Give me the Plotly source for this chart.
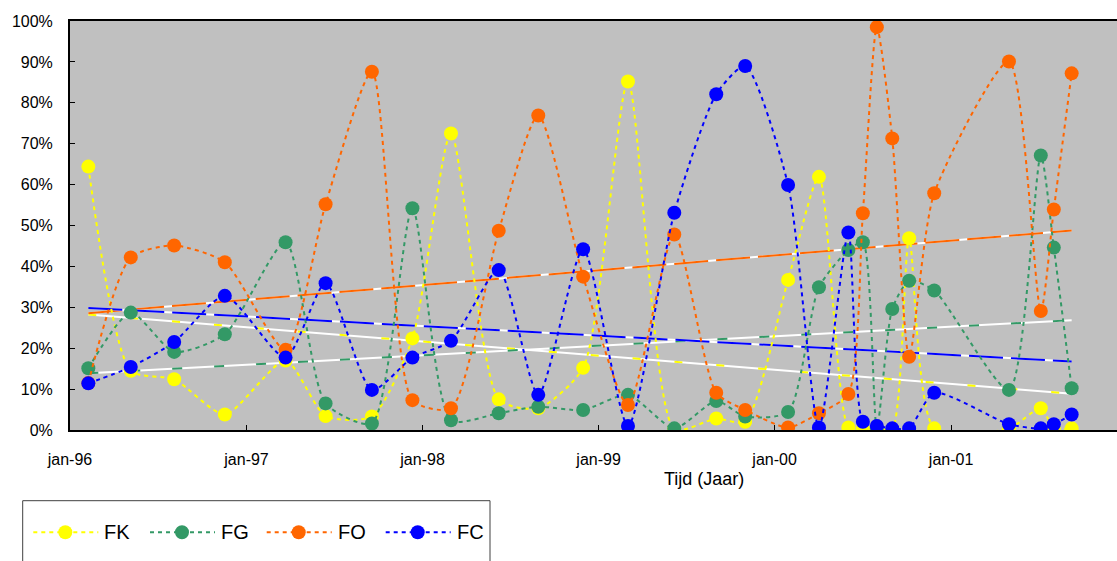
import numpy as np
import pandas as pd
import plotly.graph_objects as go

# ---------------- data ----------------
dates = ["1996-02-08", "1996-05-06", "1996-08-04", "1996-11-17", "1997-03-23",
         "1997-06-14", "1997-09-18", "1997-12-11", "1998-03-01", "1998-06-08",
         "1998-08-29", "1998-11-30", "1999-03-03", "1999-06-07", "1999-09-02",
         "1999-11-01", "2000-01-29", "2000-04-02", "2000-06-02", "2000-07-02",
         "2000-07-31", "2000-09-01", "2000-10-06", "2000-11-27", "2001-05-01",
         "2001-07-06", "2001-08-02", "2001-09-08"]

fk = [64.4, 14.5, 12.4, 3.8, 17.0, 3.4, 3.3, 22.4, 72.5, 7.5,
      5.3, 15.2, 85.2, 0.2, 2.8, 2.0, 36.7, 61.9, 0.6, 0.2,
      0.2, 0.2, 46.9, 0.4, 0.4, 5.3, 0.5, 0.4]
fg = [15.1, 28.7, 19.1, 23.4, 45.9, 6.5, 1.6, 54.2, 2.4, 4.1,
      5.7, 4.9, 8.6, 0.4, 7.1, 3.3, 4.4, 34.9, 44.0, 45.9,
      0.5, 29.6, 36.5, 34.1, 9.8, 67.1, 44.6, 10.2]
fo = [11.5, 42.2, 45.1, 41.0, 19.6, 55.2, 87.6, 7.3, 5.3, 48.7,
      76.9, 37.5, 6.1, 47.8, 9.1, 4.9, 0.6, 4.1, 8.8, 53.0,
      98.5, 71.3, 17.9, 57.9, 90.1, 29.1, 53.9, 87.2]
fc = [11.4, 15.4, 21.5, 32.8, 17.7, 35.9, 9.8, 17.7, 21.8, 39.1,
      8.6, 44.2, 1.0, 53.1, 82.1, 89.0, 59.9, 0.6, 48.3, 2.0,
      1.0, 0.4, 0.4, 9.1, 1.4, 0.4, 1.4, 3.8]

series_names = ["FK", "FG", "FO", "FC"]
series_values = [fk, fg, fo, fc]
colors = ["#FFFF00", "#339966", "#FF6600", "#0000FF"]

tick_dates = ["1996-01-01", "1997-01-01", "1998-01-01",
              "1999-01-01", "2000-01-01", "2001-01-01"]
tick_labels = ["jan-96", "jan-97", "jan-98", "jan-99", "jan-00", "jan-01"]
y_ticks = [0.0, 0.1, 0.2, 0.3, 0.4, 0.5, 0.6, 0.7, 0.8, 0.9, 1.0]

# ---------------- layout geometry (pixels) ----------------
W, H = 1117, 561
ML, MR, MT, MB = 70, 0, 21, 131
PW, PH = W - ML - MR, H - MT - MB

def px(x):
    return (x - ML) / PW

def py(y):
    return (H - MB - y) / PH

FONT = "Liberation Sans, Arial, sans-serif"

fig = go.Figure()

# ---------------- trendlines (linear fit) ----------------
dt = pd.to_datetime(dates)
xnum = (dt - pd.Timestamp("1970-01-01")).days.values.astype(float)
trend_dash = {"FK": "8px,34px", "FG": "10px,32px", "FO": "34px,8px", "FC": "34px,8px"}
for name, vals, col in zip(series_names, series_values, colors):
    v = np.array(vals) / 100.0
    k, b = np.polyfit(xnum, v, 1)
    xe = np.array([xnum[0], xnum[-1]])
    ye = k * xe + b
    xd = [dt[0], dt[-1]]
    fig.add_trace(go.Scatter(x=xd, y=ye, mode="lines",
                             line=dict(color="white", width=2),
                             hoverinfo="skip", showlegend=False))
    fig.add_trace(go.Scatter(x=xd, y=ye, mode="lines",
                             line=dict(color=col, width=2, dash=trend_dash[name]),
                             hoverinfo="skip", showlegend=False))

# ---------------- series ----------------
for name, vals, col in zip(series_names, series_values, colors):
    fig.add_trace(go.Scatter(
        x=dates, y=[v / 100.0 for v in vals], name=name,
        mode="lines+markers",
        line=dict(color=col, width=2, dash="4px,4px", shape="spline", smoothing=0.65),
        marker=dict(color=col, size=14, line=dict(width=0)),
        showlegend=False))

# ---------------- manual legend ----------------
shapes = [dict(type="rect", xref="paper", yref="paper",
               x0=px(22.7), x1=px(490), y0=py(500.7), y1=py(580),
               line=dict(color="#404040", width=1), fillcolor="white", layer="above")]
annotations = []
leg_start = [33.3, 150.0, 266.7, 385.7]
leg_y = 532.3
for i, (name, col) in enumerate(zip(series_names, colors)):
    x0 = leg_start[i]
    shapes.append(dict(type="line", xref="paper", yref="paper",
                       x0=px(x0), x1=px(x0 + 65), y0=py(leg_y), y1=py(leg_y),
                       line=dict(color=col, width=2, dash="4px,4px"), layer="above"))
    cx = x0 + 32
    shapes.append(dict(type="circle", xref="paper", yref="paper",
                       x0=px(cx - 7), x1=px(cx + 7), y0=py(leg_y + 7), y1=py(leg_y - 7),
                       line=dict(width=0), fillcolor=col, layer="above"))
    annotations.append(dict(text=name, xref="paper", yref="paper",
                            x=px(x0 + 69), y=py(leg_y), xanchor="left", yanchor="middle",
                            showarrow=False, font=dict(family=FONT, size=20, color="black")))

annotations.append(dict(text="Tijd (Jaar)", xref="paper", yref="paper",
                        x=px(704), y=py(479), xanchor="center", yanchor="middle",
                        showarrow=False, font=dict(family=FONT, size=18, color="black")))

fig.update_layout(
    width=W, height=H,
    margin=dict(l=ML, r=MR, t=MT, b=MB, pad=0),
    paper_bgcolor="white", plot_bgcolor="#C0C0C0",
    font=dict(family=FONT, color="black"),
    showlegend=False,
    shapes=shapes, annotations=annotations,
    xaxis=dict(type="date", range=["1996-01-01", "2001-12-11"],
               tickmode="array", tickvals=tick_dates, ticktext=tick_labels,
               ticks="inside", ticklen=5, tickwidth=1, tickcolor="black",
               showgrid=False, zeroline=False,
               showline=True, linewidth=2, linecolor="black", mirror=True,
               tickfont=dict(family=FONT, size=16, color="black"),
               ticklabelstandoff=14),
    yaxis=dict(range=[0, 1], tickmode="array", tickvals=y_ticks, tickformat=".0%",
               ticks="inside", ticklen=5, tickwidth=1, tickcolor="black",
               showgrid=False, zeroline=False,
               showline=True, linewidth=2, linecolor="black", mirror=False,
               tickfont=dict(family=FONT, size=16, color="black"),
               ticklabelstandoff=12),
)

fig.write_html("out.html")
